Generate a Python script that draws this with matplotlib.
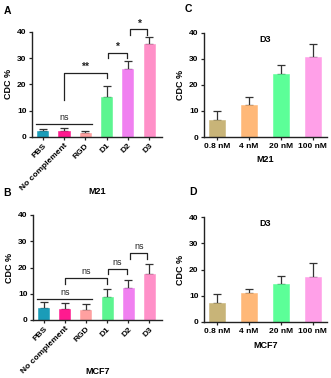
import matplotlib
matplotlib.use("Agg")
import matplotlib.pyplot as plt
import numpy as np

plt.rcParams['font.family'] = ['Liberation Sans', 'DejaVu Sans']

groups = ["PBS", "No complement", "RGD", "D1", "D2", "D3"]
group_colors = ["#1a9cb8", "#ff1a8f", "#ffa0a0", "#5cf590", "#f080f0", "#ff90c8"]
m21_vals = [2.0, 2.3, 1.5, 15.0, 26.0, 35.5]
m21_err = [1.0, 1.0, 0.7, 4.5, 3.0, 2.6]
mcf7_vals = [4.6, 4.3, 3.9, 8.7, 12.3, 17.6]
mcf7_err = [2.2, 2.1, 2.1, 3.1, 3.0, 3.8]

doses = ["0.8 nM", "4 nM", "20 nM", "100 nM"]
dose_colors = ["#c8b478", "#ffb878", "#5cff98", "#ffa0e8"]
d3_m21_vals = [6.7, 12.3, 24.3, 30.7]
d3_m21_err = [3.1, 3.2, 3.2, 5.0]
d3_mcf7_vals = [7.3, 11.0, 14.6, 17.3]
d3_mcf7_err = [3.2, 1.7, 3.1, 5.1]

W, H = 331, 378
fig = plt.figure(figsize=(W/100, H/100), dpi=100)

def axes_px(left, right, y0, y40):
    return fig.add_axes([left/W, 1 - y0/H, (right-left)/W, (y0-y40)/H])

def style(ax, labels, xlim, rot):
    ax.set_ylim(0, 40)
    ax.set_xlim(*xlim)
    ax.set_yticks([0, 10, 20, 30, 40])
    for s in ["top", "right"]:
        ax.spines[s].set_visible(False)
    for s in ["left", "bottom"]:
        ax.spines[s].set_linewidth(1.0)
        ax.spines[s].set_color("#222222")
    ax.tick_params(axis="both", length=2.5, width=0.9, color="#222222", pad=1.5,
                   labelsize=6)
    ax.set_xticks(range(len(labels)))
    if rot:
        ax.set_xticklabels(labels, rotation=45, ha="right", rotation_mode="anchor",
                           fontweight="bold", fontsize=6)
    else:
        ax.set_xticklabels(labels, fontweight="bold", fontsize=6)
    for t in ax.get_yticklabels():
        t.set_fontweight("bold")
    ax.set_ylabel("CDC %", fontsize=6.5, fontweight="bold", labelpad=3)

def bars(ax, vals, errs, colors, width):
    x = np.arange(len(vals))
    ax.bar(x, vals, width=width, color=colors, edgecolor=colors, linewidth=0.4, zorder=2)
    ax.errorbar(x, vals, yerr=[np.zeros(len(vals)), errs], fmt="none",
                ecolor="#333333", elinewidth=0.9, capsize=3, capthick=0.9, zorder=1)

def bracket(ax, x1, x2, ytop, yl, yr, text, bold):
    ax.plot([x1, x1, x2, x2], [yl, ytop, ytop, yr], color="#222222", lw=0.9,
            clip_on=False)
    ax.text((x1+x2)/2, ytop + (0.3 if bold else 0.8), text, ha="center", va="bottom",
            fontsize=7.5 if bold else 6.5, fontweight="bold" if bold else "normal",
            color="#222222")

# Panel A
axA = axes_px(32, 162, 136.7, 32)
bars(axA, m21_vals, m21_err, group_colors, 0.52)
style(axA, groups, (-0.5, 5.6), True)
axA.plot([-0.3, 2.3], [5, 5], color="#222222", lw=0.9)
axA.text(1.0, 5.8, "ns", ha="center", va="bottom", fontsize=6.5, color="#222222")
bracket(axA, 1, 3, 24.5, 14, 22.5, "**", True)
bracket(axA, 3.05, 3.95, 32, 30, 30, "*", True)
bracket(axA, 4.1, 4.9, 41, 39, 39, "*", True)

# Panel B
axB = axes_px(33, 162, 320, 215)
bars(axB, mcf7_vals, mcf7_err, group_colors, 0.52)
style(axB, groups, (-0.5, 5.6), True)
axB.plot([-0.3, 2.3], [8, 8], color="#222222", lw=0.9)
axB.text(1.0, 8.8, "ns", ha="center", va="bottom", fontsize=6.5, color="#222222")
bracket(axB, 1, 3, 15.9, 13.6, 13.6, "ns", False)
bracket(axB, 3.05, 3.95, 19.4, 17.4, 17.4, "ns", False)
bracket(axB, 4.1, 4.9, 25.4, 23.4, 23.4, "ns", False)

# Panel C
axC = axes_px(204, 327, 137, 32.7)
bars(axC, d3_m21_vals, d3_m21_err, dose_colors, 0.5)
style(axC, doses, (-0.4, 3.45), False)
axC.text(1.5, 37.5, "D3", ha="center", va="center", fontsize=6.5, fontweight="bold")

# Panel D
axD = axes_px(204, 327, 322, 217)
bars(axD, d3_mcf7_vals, d3_mcf7_err, dose_colors, 0.5)
style(axD, doses, (-0.4, 3.45), False)
axD.text(1.5, 37.5, "D3", ha="center", va="center", fontsize=6.5, fontweight="bold")

# x-axis titles
for lab, x, y in [("M21", 97, 191), ("MCF7", 98, 372), ("M21", 265, 159), ("MCF7", 266, 346)]:
    fig.text(x/W, 1 - y/H, lab, fontsize=6.5, fontweight="bold", ha="center", va="center")

for lab, x, y in [("A", 4, 11), ("C", 185, 9), ("B", 3, 193), ("D", 189, 192)]:
    fig.text(x/W, 1 - y/H, lab, fontsize=7.5, fontweight="bold", va="center", ha="left")

fig.savefig("out.png", dpi=100)
